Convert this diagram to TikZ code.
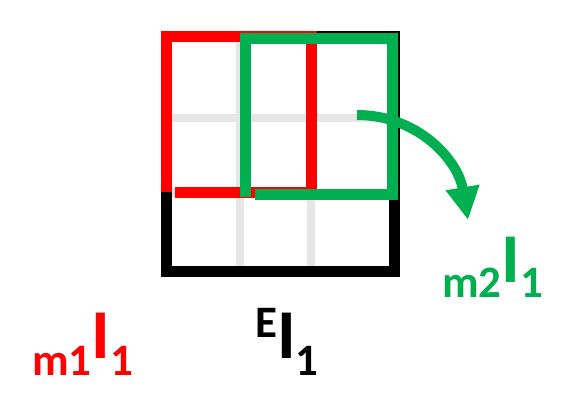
\documentclass[tikz,border=0pt]{standalone}
\usepackage{fontspec}
\setmainfont{Carlito}
\usetikzlibrary{arrows.meta}
\definecolor{mgreen}{RGB}{0,176,80}
\definecolor{gridgray}{RGB}{230,230,230}
\newcommand{\lsmall}{\fontsize{45}{45}\selectfont}
\newcommand{\lbig}{\fontsize{70}{70}\selectfont}
\tikzset{lbl/.style={inner sep=0pt,anchor=base west,font=\bfseries}}

\begin{document}
\begin{tikzpicture}[x=1pt,y=-1pt]
            \useasboundingbox (0,0) rectangle (562,405);
            \foreach \x in {240,311}{
                \draw[gridgray,line width=8pt] (\x,41)--(\x,266);
            }
            \foreach \y in {118,193}{
                \draw[gridgray,line width=8pt] (171,\y)--(389,\y);
            }
            \draw[line width=11pt] (166,36) rectangle (394,271);
            \draw[red,line width=11pt] (175,192)--(311,192);
            \draw[red,line width=11pt] (166,192)--(166,36)--(311,36)--(311,197);
            \draw[mgreen,line width=11pt] (245,197)--(245,38)--(392,38)--(392,194)--(255,194);
            \coordinate (arrS) at (357,115);
            \coordinate (arrE) at (468,220);
            \draw[mgreen,line width=10pt,-{Triangle[length=33pt,width=32pt]}] (arrS) .. controls (418,115) and (458,160) .. (arrE);
            \node[lbl,red] (m1I) at (32,375) {\lsmall m1\raisebox{17pt}{\lbig I}1};
            \node[lbl] (EI) at (255,375) {\lsmall\raisebox{38pt}{E}\raisebox{17pt}{\lbig I}1};
            \node[lbl,mgreen] (m2I) at (442,297) {\lsmall m2\raisebox{15pt}{\lbig I}1};
\end{tikzpicture}
\end{document}
